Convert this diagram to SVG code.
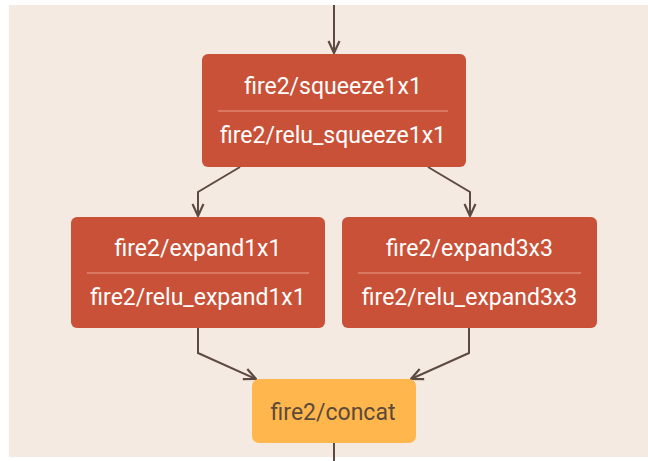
<svg xmlns="http://www.w3.org/2000/svg" width="648" height="461" viewBox="0 0 648 461">
<defs>
<style>
.bg{fill:#F5EAE1}
.op{fill:#C95137}
.cc{fill:#FFB74D}
.sep{stroke:#E9A08F;stroke-width:1.2}
.t{font-family:Roboto,"Liberation Sans",sans-serif;font-size:23px;text-anchor:middle;fill:#FFFFFF}
.td{fill:#5B4A3A}
.e{fill:none;stroke:#5D4A40;stroke-width:2}
</style>
<marker id="ah" viewBox="0 0 14 14" refX="13" refY="7" markerWidth="14" markerHeight="14" markerUnits="userSpaceOnUse" orient="auto">
<path d="M1,1.5 L13,7 L1,12.5" fill="none" stroke="#5D4A40" stroke-width="2.2"/>
</marker>
</defs>
<rect x="0" y="0" width="648" height="461" fill="#FFFFFF"/>
<rect class="bg" x="9" y="5" width="639" height="452"/>
<g id="connectors">
<path class="e" d="M334,5 L334,53" marker-end="url(#ah)"/>
<path class="e" d="M240,167 L198,192 L198,216" marker-end="url(#ah)"/>
<path class="e" d="M428,167 L470,192 L470,216" marker-end="url(#ah)"/>
<path class="e" d="M198,328 L198,353 L256,379" marker-end="url(#ah)"/>
<path class="e" d="M469,328 L469,353 L411,379" marker-end="url(#ah)"/>
<path class="e" d="M334,443 L334,461"/>
</g>
<g id="squeeze">
<rect class="op" x="202" y="54" width="264" height="113" rx="6"/>
<text class="t" x="333" y="94">fire2/squeeze1x1</text>
<line class="sep" x1="218" y1="111" x2="448" y2="111"/>
<text class="t" x="333" y="143">fire2/relu_squeeze1x1</text>
</g>
<g id="expand1x1">
<rect class="op" x="71" y="217" width="254" height="111" rx="6"/>
<text class="t" x="198" y="256">fire2/expand1x1</text>
<line class="sep" x1="87" y1="273" x2="309" y2="273"/>
<text class="t" x="198" y="305">fire2/relu_expand1x1</text>
</g>
<g id="expand3x3">
<rect class="op" x="342" y="217" width="255" height="111" rx="6"/>
<text class="t" x="469.5" y="256">fire2/expand3x3</text>
<line class="sep" x1="358" y1="273" x2="581" y2="273"/>
<text class="t" x="469.5" y="305">fire2/relu_expand3x3</text>
</g>
<g id="concat">
<rect class="cc" x="252" y="379" width="164" height="64" rx="7"/>
<text class="t td" x="333" y="420">fire2/concat</text>
</g>
</svg>
